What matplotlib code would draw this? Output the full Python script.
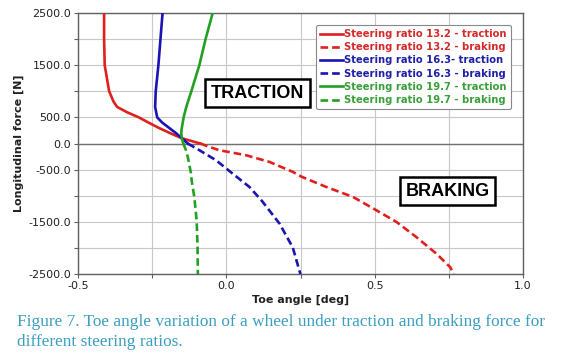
import matplotlib
matplotlib.use("Agg")
import matplotlib.pyplot as plt
import numpy as np

# ---- data ----
red_trac_y = [2500, 2000, 1500, 1000, 800, 700, 600, 500, 400, 300, 200, 100, 0]
red_trac_x = [-0.412, -0.412, -0.41, -0.395, -0.38, -0.368, -0.335, -0.295, -0.262, -0.228, -0.19, -0.15, -0.088]

red_brak_y = [0, -60, -128, -224, -352, -544, -640, -833, -1024, -1280, -1505, -1795, -2115, -2372, -2500]
red_brak_x = [-0.088, -0.06, -0.024, 0.066, 0.145, 0.224, 0.255, 0.337, 0.427, 0.506, 0.574, 0.641, 0.709, 0.755, 0.766]

blue_trac_y = [2500, 2000, 1500, 1000, 700, 500, 400, 300, 200, 100, 0]
blue_trac_x = [-0.215, -0.222, -0.229, -0.238, -0.24, -0.233, -0.216, -0.193, -0.17, -0.15, -0.13]

blue_brak_y = [0, -128, -320, -576, -833, -1100, -1532, -1993, -2450, -2500]
blue_brak_x = [-0.13, -0.091, -0.035, 0.021, 0.078, 0.12, 0.179, 0.224, 0.247, 0.25]

green_trac_y = [2500, 2000, 1500, 1000, 700, 500, 300, 200, 100, 0]
green_trac_x = [-0.046, -0.07, -0.091, -0.118, -0.135, -0.144, -0.15, -0.152, -0.15, -0.145]

green_brak_y = [0, -128, -256, -576, -705, -1024, -1475, -1988, -2500]
green_brak_x = [-0.145, -0.136, -0.13, -0.119, -0.117, -0.108, -0.10, -0.097, -0.096]

labels = ["Steering ratio 13.2 - traction", "Steering ratio 13.2 - braking",
          "Steering ratio 16.3- traction", "Steering ratio 16.3 - braking",
          "Steering ratio 19.7 - traction", "Steering ratio 19.7 - braking"]

y_ticks = [2500, 2000, 1500, 1000, 500, 0, -500, -1000, -1500, -2000, -2500]
y_ticklabels = ["2500.0", "", "1500.0", "", "500.0", "0.0", "-500.0", "", "-1500.0", "", "-2500.0"]
x_ticks = [-0.5, 0.0, 0.5, 1.0]
x_ticklabels = ["-0.5", "0.0", "0.5", "1.0"]
x_minor = [-0.25, 0.25, 0.75]

caption = ("Figure 7. Toe angle variation of a wheel under traction and braking force for\n"
           "different steering ratios.")

RED = "#e0201e"
BLUE = "#1a14b4"
GREEN = "#22a022"
TXT_COLORS = ["#d42a2a", "#d42a2a", "#2020a8", "#2020a8", "#3aa03a", "#3aa03a"]

fig = plt.figure(figsize=(5.61, 3.56), dpi=100)
ax = fig.add_axes([78/561, 1-274/356, 445/561, 261/356])

lw = 1.9
dash = (2.9, 1.5)
series = [
    (red_trac_x, red_trac_y, RED, "-"),
    (red_brak_x, red_brak_y, RED, "--"),
    (blue_trac_x, blue_trac_y, BLUE, "-"),
    (blue_brak_x, blue_brak_y, BLUE, "--"),
    (green_trac_x, green_trac_y, GREEN, "-"),
    (green_brak_x, green_brak_y, GREEN, "--"),
]
handles = []
for (xs, ys, c, ls), lab in zip(series, labels):
    if ls == "--":
        h, = ax.plot(xs, ys, color=c, lw=lw, linestyle=(0, dash), label=lab, zorder=3,
                     solid_joinstyle="round")
    else:
        h, = ax.plot(xs, ys, color=c, lw=lw, label=lab, zorder=3, solid_joinstyle="round")
    handles.append(h)

ax.set_xlim(-0.5, 1.0)
ax.set_ylim(-2500, 2500)
ax.set_xticks(x_ticks)
ax.set_xticklabels(x_ticklabels)
ax.set_xticks(x_minor, minor=True)
ax.set_yticks(y_ticks)
ax.set_yticklabels(y_ticklabels)
ax.grid(True, which="both", color="#c8c8c8", lw=0.8, zorder=0)
ax.axhline(0, color="#707070", lw=1.0, zorder=1)
for s in ax.spines.values():
    s.set_color("#606060")
    s.set_linewidth(1.0)
ax.tick_params(axis="both", which="both", direction="out", length=3, width=0.8,
               color="#606060", labelsize=8, pad=2, labelcolor="#222222")
ax.set_axisbelow(True)

ax.set_xlabel("Toe angle [deg]", fontsize=8, fontweight="semibold", color="#222222", labelpad=3)
ax.set_ylabel("Longitudinal force [N]", fontsize=8, fontweight="semibold", color="#222222", labelpad=3)

leg = ax.legend(handles=handles, loc="upper right", bbox_to_anchor=(0.973, 0.954),
                borderaxespad=0, handlelength=2.3, handletextpad=0.1,
                labelspacing=0.32, borderpad=0.4, fancybox=True, framealpha=1,
                edgecolor="#888888", prop={"weight": "semibold", "size": 7.2})
leg.get_frame().set_linewidth(0.8)
for t, c in zip(leg.get_texts(), TXT_COLORS):
    t.set_color(c)

box = dict(boxstyle="square,pad=0.3", facecolor="white", edgecolor="black", lw=1.8)
ax.text(0.105, 960, "TRACTION", fontsize=13, fontweight="bold", family="Liberation Sans",
        ha="center", va="center", bbox=box, zorder=5)
ax.text(0.747, -914, "BRAKING", fontsize=13, fontweight="bold", family="Liberation Sans",
        ha="center", va="center", bbox=box, zorder=5)

fig.text(17/561, 1-332/356, caption, fontsize=12.4, family="Liberation Serif",
         color="#3a9ec0", ha="left", va="center", linespacing=1.25)

fig.savefig("out.png", dpi=100)
